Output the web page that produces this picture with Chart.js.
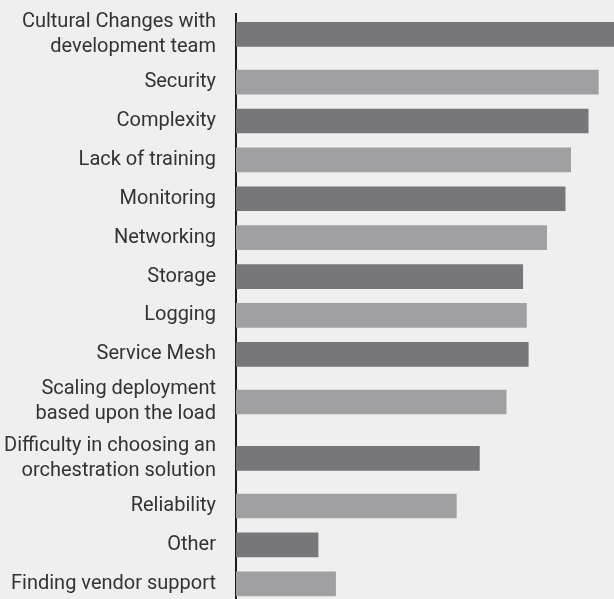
<!DOCTYPE html>
<html>
<head>
<meta charset="utf-8">
<script src="https://cdn.jsdelivr.net/npm/chart.js@4.4.1/dist/chart.umd.min.js"></script>
<style>
    html, body { margin: 0; padding: 0; background: #efefef; }
    #wrap { width: 614px; height: 599px; position: relative; }
</style>
</head>
<body>
<div id="wrap"><canvas id="challengesChart"></canvas></div>
<script>
const categories = [
    ['Cultural Changes with', 'development team'],
    'Security',
    'Complexity',
    'Lack of training',
    'Monitoring',
    'Networking',
    'Storage',
    'Logging',
    'Service Mesh',
    ['Scaling deployment', 'based upon the load'],
    ['Difficulty in choosing an', 'orchestration solution'],
    'Reliability',
    'Other',
    'Finding vendor support'
];
const percentages = [41, 39.3, 38.2, 36.3, 35.7, 33.7, 31.1, 31.5, 31.7, 29.3, 26.4, 23.9, 8.9, 10.8];

const darkBar = '#77777b';
const lightBar = '#a0a0a3';
const textColor = '#333333';
// a two-line label makes its row a bit taller than a one-line row
const extraLineRows = 0.45;

function rowCenters(labels) {
    const centers = [];
    let top = 0;
    labels.forEach(label => {
        const lines = Array.isArray(label) ? label.length : 1;
        const h = 1 + extraLineRows * (lines - 1);
        centers.push(top + h / 2);
        top += h;
    });
    return { centers: centers, total: top };
}

const rows = rowCenters(categories);

const ctx = document.getElementById('challengesChart');
new Chart(ctx, {
    type: 'bar',
    data: {
        datasets: [{
            data: percentages.map((v, i) => ({ x: v, y: rows.centers[i] })),
            backgroundColor: percentages.map((v, i) => i % 2 === 0 ? darkBar : lightBar),
            borderWidth: 0,
            barThickness: 24
        }]
    },
    options: {
        indexAxis: 'y',
        responsive: true,
        maintainAspectRatio: false,
        animation: false,
        layout: { padding: { top: 14, left: 0, right: 0, bottom: 0 } },
        plugins: {
            legend: { display: false },
            tooltip: { enabled: false }
        },
        scales: {
            x: {
                type: 'linear',
                min: 0,
                max: 41,
                display: false
            },
            y: {
                type: 'linear',
                reverse: true,
                offset: false,
                min: 0.2,
                max: rows.total - 0.11,
                afterBuildTicks: (scale) => {
                    scale.ticks = rows.centers.map(v => ({ value: v }));
                },
                afterFit: (scale) => {
                    scale.width = 236;
                    // labels may overhang the plot, the axis line runs edge to edge
                    scale.paddingTop = 0;
                    scale.paddingBottom = 0;
                },
                ticks: {
                    autoSkip: false,
                    padding: 20,
                    color: textColor,
                    font: { family: 'Roboto', size: 20, lineHeight: 1.25 },
                    callback: (value, index) => categories[index]
                },
                grid: { display: false, drawTicks: false, offset: false },
                border: { display: true, color: '#1a1a1a', width: 2 }
            }
        }
    }
});
</script>
</body>
</html>
